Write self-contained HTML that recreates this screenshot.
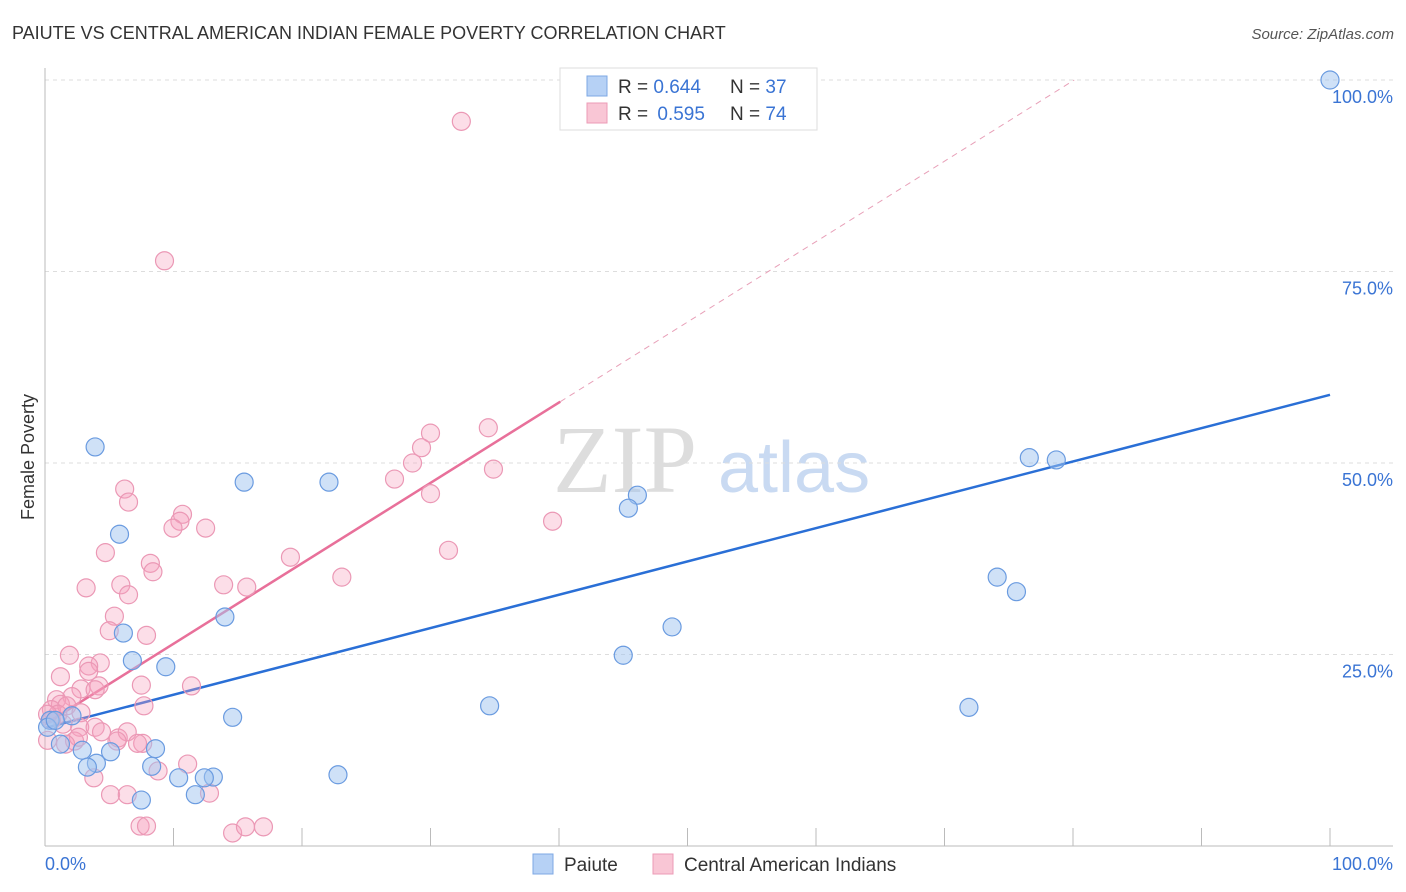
<!DOCTYPE html>
<html><head><meta charset="utf-8"><style>
body{margin:0;background:#fff;font-family:"Liberation Sans",sans-serif}
svg{display:block}
</style></head><body>
<svg id="chart" width="1406" height="892" xmlns="http://www.w3.org/2000/svg">
<text x="12" y="39" font-size="18" fill="#333">PAIUTE VS CENTRAL AMERICAN INDIAN FEMALE POVERTY CORRELATION CHART</text>
<text x="1394" y="39" font-size="15" fill="#555" font-style="italic" text-anchor="end">Source: ZipAtlas.com</text>
<text x="34" y="457" font-size="18" fill="#333" transform="rotate(-90 34 457)" text-anchor="middle">Female Poverty</text>
<g>
<text x="553" y="492" font-family="Liberation Serif,serif" font-size="96" fill="#ddd">ZIP</text>
<text x="718" y="492" font-size="72" fill="#c9daf2">atlas</text>
</g>
<g id="grid"></g>
<g id="axes"></g>
<g id="lines"></g>
<g id="pts"></g>
<g>
<rect x="560" y="68" width="257" height="62" fill="#fff" stroke="#ddd"/>
<rect x="587" y="76" width="20" height="20" fill="#b6d1f5" stroke="#7ea8e4"/>
<rect x="587" y="103" width="20" height="20" fill="#f9c6d5" stroke="#ec9bb6"/>
<text x="618" y="93" font-size="19" fill="#333">R = <tspan fill="#3a74d4">0.644</tspan></text>
<text x="730" y="93" font-size="19" fill="#333">N = <tspan fill="#3a74d4">37</tspan></text>
<text x="618" y="120" font-size="19" fill="#333">R = <tspan fill="#3a74d4" dx="4">0.595</tspan></text>
<text x="730" y="120" font-size="19" fill="#333">N = <tspan fill="#3a74d4">74</tspan></text>
</g>
<g>
<rect x="533" y="854" width="20" height="20" fill="#b6d1f5" stroke="#7ea8e4"/>
<text x="564" y="871" font-size="19" fill="#333">Paiute</text>
<rect x="653" y="854" width="20" height="20" fill="#f9c6d5" stroke="#ec9bb6"/>
<text x="684" y="871" font-size="19" fill="#333">Central American Indians</text>
</g>
</svg>
<script>
const yTicks=[25,50,75,100];
const yTickLabels=["25.0%","50.0%","75.0%","100.0%"];
const blueX=[100,3.9,15.5,22.1,5.8,46.1,45.4,76.6,78.7,74.1,75.6,48.8,45.0,6.1,14.0,6.8,9.4,34.6,71.9,14.6,2.1,0.4,0.2,1.2,2.9,5.1,8.6,4.0,3.3,8.3,10.4,13.1,12.4,22.8,11.7,7.5,0.8];
const blueY=[100,52.1,47.5,47.5,40.7,45.8,44.1,50.7,50.4,35.1,33.2,28.6,24.9,27.8,29.9,24.2,23.4,18.3,18.1,16.8,17.0,16.4,15.5,13.3,12.5,12.3,12.7,10.8,10.3,10.4,8.9,9.0,8.9,9.3,6.7,6.0,16.4];
const pinkX=[32.4,9.3,34.5,30.0,29.3,28.6,27.2,34.9,30.0,6.2,6.5,39.5,10.7,10.5,9.96,12.5,4.7,31.4,19.1,8.2,8.4,23.1,3.2,5.9,13.9,15.7,6.5,5.4,5.0,7.9,1.9,4.3,3.4,3.4,1.2,7.5,11.4,2.8,4.2,2.1,0.9,1.2,0.5,1.7,7.7,2.8,1.0,0.2,2.7,3.9,7.6,4.4,5.7,6.4,5.6,2.3,2.6,7.2,11.1,8.8,3.8,5.1,6.4,12.8,7.4,7.9,14.6,15.6,17.0,0.2,0.5,1.4,1.6,3.9];
const pinkY=[94.6,76.4,54.6,53.9,52.0,50.0,47.9,49.2,46.0,46.6,44.9,42.4,43.3,42.4,41.5,41.5,38.3,38.6,37.7,36.9,35.8,35.1,33.7,34.1,34.1,33.8,32.8,30.0,28.1,27.5,24.9,23.9,23.5,22.8,22.1,21.0,20.9,20.5,20.9,19.5,19.1,18.5,17.8,18.3,18.3,17.4,17.2,17.2,15.5,15.5,13.4,14.9,14.1,14.9,13.7,13.7,14.2,13.4,10.7,9.8,8.9,6.7,6.7,6.9,2.6,2.6,1.7,2.5,2.5,13.8,16.4,15.9,13.3,20.4];
const blueFit=[15.4,58.9];
const pinkFit=[15.9,1.05];
const pinkSolidEnd=40.1;

const NS="http://www.w3.org/2000/svg";
const X0=45,X1=1330,Y0=846,Y1=80;
const sx=v=>X0+(X1-X0)*v/100;
const sy=v=>Y0-(Y0-Y1)*v/100;
function mk(tag,attrs,parent){const e=document.createElementNS(NS,tag);for(const k in attrs)e.setAttribute(k,attrs[k]);parent.appendChild(e);return e;}
const grid=document.getElementById('grid'),axes=document.getElementById('axes'),lines=document.getElementById('lines'),pts=document.getElementById('pts');
yTicks.forEach((t,i)=>{
  const l=mk('line',{x1:45,x2:1393,y1:sy(t),y2:sy(t),stroke:'#ddd','stroke-dasharray':'4,4'},grid);
  
  
  const tx=mk('text',{x:1393,y:sy(t)+23,'font-size':18,fill:'#3a74d4','text-anchor':'end'},grid);
  tx.textContent=yTickLabels[i];
  
  
});
let a=mk('line',{x1:45,x2:45,y1:68,y2:846,stroke:'#bbb'},axes);


a=mk('line',{x1:45,x2:1393,y1:846,y2:846,stroke:'#bbb'},axes);


for(let k=1;k<=10;k++){
  const t=mk('line',{x1:X0+k*128.5,x2:X0+k*128.5,y1:828,y2:846,stroke:'#bbb'},axes);
  
  
}
let xl=mk('text',{x:45,y:870,'font-size':18,fill:'#3a74d4'},axes);xl.textContent='0.0%';


xl=mk('text',{x:1393,y:870,'font-size':18,fill:'#3a74d4','text-anchor':'end'},axes);xl.textContent='100.0%';



let ln=mk('line',{x1:sx(0),y1:sy(blueFit[0]),x2:sx(100),y2:sy(blueFit[1]),stroke:'#2a6fd6','stroke-width':2.5},lines);


ln=mk('line',{x1:sx(0),y1:sy(pinkFit[0]),x2:sx(pinkSolidEnd),y2:sy(pinkFit[0]+pinkFit[1]*pinkSolidEnd),stroke:'#e8709a','stroke-width':2.5},lines);


const xe=(100-pinkFit[0])/pinkFit[1];
ln=mk('line',{x1:sx(pinkSolidEnd),y1:sy(pinkFit[0]+pinkFit[1]*pinkSolidEnd),x2:sx(xe),y2:sy(100),stroke:'#e8a0b8','stroke-width':1,'stroke-dasharray':'6,5'},lines);



pinkX.forEach((x,i)=>{
  const c=mk('circle',{cx:sx(x),cy:sy(pinkY[i]),r:9,fill:'rgba(245,160,190,0.35)',stroke:'#eb98b5','stroke-width':1.2},pts);
  
  
});
blueX.forEach((x,i)=>{
  const c=mk('circle',{cx:sx(x),cy:sy(blueY[i]),r:9,fill:'rgba(160,196,240,0.5)',stroke:'#6a9be0','stroke-width':1.2},pts);
  
  
});
</script>
</body></html>
